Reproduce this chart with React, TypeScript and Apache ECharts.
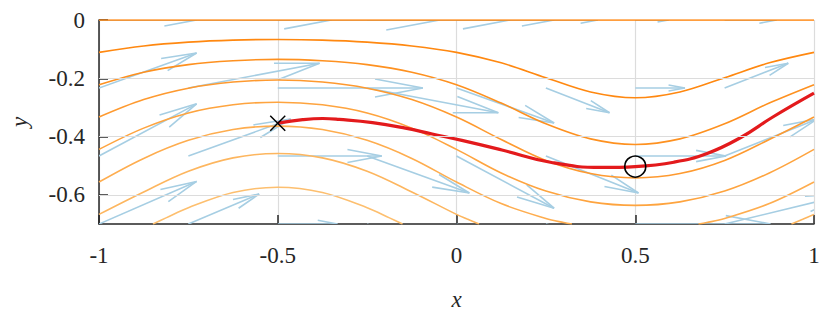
import React, { useEffect, useRef } from "react";
import * as echarts from "echarts";

// ---- streamlines (contours of the stream function) ----
const streamX = [-1, -0.875, -0.75, -0.625, -0.5, -0.375, -0.25, -0.125, 0, 0.125, 0.25, 0.375, 0.5, 0.625, 0.75, 0.875, 1];
const level0Y = [0, 0, 0, 0, 0, 0, 0, 0, 0, 0, 0, 0, 0, 0, 0, 0, 0];
const level1Y = [-0.111, -0.089, -0.076, -0.069, -0.067, -0.069, -0.076, -0.089, -0.111, -0.147, -0.198, -0.247, -0.267, -0.247, -0.198, -0.147, -0.111];
const level2Y = [-0.222, -0.179, -0.153, -0.14, -0.135, -0.14, -0.153, -0.179, -0.222, -0.285, -0.356, -0.408, -0.427, -0.408, -0.356, -0.285, -0.222];
const level3Y = [-0.333, -0.273, -0.234, -0.213, -0.206, -0.213, -0.234, -0.273, -0.333, -0.41, -0.482, -0.527, -0.542, -0.527, -0.482, -0.41, -0.333];
const level4Y = [-0.444, -0.371, -0.319, -0.291, -0.282, -0.291, -0.319, -0.371, -0.444, -0.525, -0.587, -0.624, -0.636, -0.624, -0.587, -0.525, -0.444];
const level5aX = [-1, -0.875, -0.75, -0.625, -0.5, -0.375, -0.25, -0.125, 0, 0.125, 0.25, 0.3, 0.323];
const level5aY = [-0.556, -0.475, -0.413, -0.376, -0.364, -0.376, -0.413, -0.475, -0.556, -0.63, -0.681, -0.695, -0.7];
const level5bX = [0.677, 0.7, 0.75, 0.875, 1];
const level5bY = [-0.7, -0.695, -0.681, -0.63, -0.556];
const level6aX = [-1, -0.875, -0.75, -0.625, -0.5, -0.375, -0.25, -0.125, 0, 0.03, 0.063];
const level6aY = [-0.667, -0.59, -0.519, -0.473, -0.458, -0.473, -0.519, -0.59, -0.667, -0.683, -0.7];
const level6bX = [0.937, 0.97, 1];
const level6bY = [-0.7, -0.683, -0.667];
const level7X = [-0.849, -0.8125, -0.75, -0.625, -0.5, -0.375, -0.25, -0.1875, -0.151];
const level7Y = [-0.7, -0.679, -0.644, -0.592, -0.574, -0.592, -0.644, -0.679, -0.7];

const levelColors = ["#ff7f00", "#ff8810", "#fe9120", "#fe9a30", "#fea43f", "#fead4f", "#fdb65f", "#fdbf6f"];

// ---- pathline ----
const pathX = [-0.5, -0.43, -0.374, -0.328, -0.235, -0.143, -0.068, 0.015, 0.127, 0.266, 0.405, 0.5, 0.608, 0.701, 0.794, 0.886, 1.0];
const pathY = [-0.354, -0.342, -0.338, -0.341, -0.352, -0.371, -0.391, -0.413, -0.446, -0.489, -0.506, -0.503, -0.488, -0.458, -0.404, -0.332, -0.251];
const startPoint = [-0.5, -0.354];
const markPoint = [0.5, -0.503];

// ---- quiver (tails on a grid, offsets in data units) ----
const quiverX = [-1, -0.75, -0.5, -0.25, 0, 0.25, 0.5, 0.75, 1];
const quiverY = [0, -0.2333, -0.4667, -0.7];
const quiverU = [
  [0.273, 0.4, 0.453, 0.4, 0.273, 0.145, 0.093, 0.145, 0.273],
  [0.273, 0.367, 0.406, 0.367, 0.273, 0.178, 0.139, 0.178, 0.273],
  [0.273, 0.286, 0.291, 0.286, 0.273, 0.259, 0.254, 0.259, 0.273],
  [0.273, 0.198, 0.167, 0.198, 0.273, 0.347, 0.378, 0.347, 0.273],
];
const quiverV = [
  [0, 0, 0, 0, 0, 0, 0, 0, 0],
  [0.12, 0.085, 0, -0.085, -0.12, -0.085, 0, 0.085, 0.12],
  [0.179, 0.127, 0, -0.127, -0.179, -0.127, 0, 0.127, 0.179],
  [0.146, 0.103, 0, -0.103, -0.146, -0.103, 0, 0.103, 0.146],
];

// ---- axes ----
const xTicks = [-1, -0.5, 0, 0.5, 1];
const yTicks = [-0.6, -0.4, -0.2, 0];
const yGrid = [-0.2, -0.4, -0.6];

const FONT = "'Liberation Serif', 'DejaVu Serif', serif";
const AXIS_COLOR = "#262626";

function zip(xs: number[], ys: number[]) {
  return xs.map((x, i) => [x, ys[i]]);
}

export default function App() {
  const ref = useRef<HTMLDivElement>(null);
  useEffect(() => {
    if (!ref.current) return;
    const chart = echarts.init(ref.current, null, { renderer: "svg" });

    const streams: { data: number[][]; level: number }[] = [
      { data: zip(streamX, level0Y), level: 0 },
      { data: zip(streamX, level1Y), level: 1 },
      { data: zip(streamX, level2Y), level: 2 },
      { data: zip(streamX, level3Y), level: 3 },
      { data: zip(streamX, level4Y), level: 4 },
      { data: zip(level5aX, level5aY), level: 5 },
      { data: zip(level5bX, level5bY), level: 5 },
      { data: zip(level6aX, level6aY), level: 6 },
      { data: zip(level6bX, level6bY), level: 6 },
      { data: zip(level7X, level7Y), level: 7 },
    ];

    const quiverData: number[][] = [];
    quiverY.forEach((y, j) => {
      quiverX.forEach((x, i) => {
        quiverData.push([x, y, quiverU[j][i], quiverV[j][i]]);
      });
    });

    const arrowStyle = { stroke: "#a6cee3", lineWidth: 1.6, fill: null };

    const option: any = {
      animation: false,
      grid: { left: 95, right: 16, top: 20, bottom: 108, containLabel: false },
      xAxis: {
        type: "value",
        min: -1,
        max: 1,
        interval: 0.5,
        name: "x",
        nameLocation: "middle",
        nameGap: 64,
        nameTextStyle: { fontFamily: FONT, fontStyle: "italic", fontSize: 23, color: AXIS_COLOR },
        axisLine: { show: true, onZero: false, lineStyle: { color: AXIS_COLOR, width: 1.5 } },
        axisTick: { show: true, inside: true, length: 9, lineStyle: { color: AXIS_COLOR, width: 1.5 } },
        axisLabel: {
          margin: 20,
          fontFamily: FONT,
          fontSize: 23,
          color: AXIS_COLOR,
          customValues: xTicks,
          formatter: (v: number) => String(v),
        },
        splitLine: { show: true, lineStyle: { color: "#dcdcdc", width: 1.2 } },
      },
      yAxis: {
        type: "value",
        min: -0.7,
        max: 0,
        name: "y",
        nameLocation: "middle",
        nameRotate: 90,
        nameGap: 68,
        nameTextStyle: { fontFamily: FONT, fontStyle: "italic", fontSize: 23, color: AXIS_COLOR },
        axisLine: { show: true, onZero: false, lineStyle: { color: AXIS_COLOR, width: 1.5 } },
        axisTick: { show: true, inside: true, length: 9, customValues: yTicks, lineStyle: { color: AXIS_COLOR, width: 1.5 } },
        axisLabel: {
          margin: 14,
          fontFamily: FONT,
          fontSize: 23,
          color: AXIS_COLOR,
          customValues: yTicks,
          formatter: (v: number) => String(v),
        },
        splitLine: { show: false },
      },
      series: [
        {
          type: "line",
          data: [],
          z: 1,
          silent: true,
          markLine: {
            silent: true,
            symbol: "none",
            label: { show: false },
            lineStyle: { color: "#dcdcdc", width: 1.2, type: "solid" },
            data: yGrid.map((v) => ({ yAxis: v })),
          },
        },
        {
          type: "custom",
          coordinateSystem: "cartesian2d",
          clip: true,
          z: 2,
          silent: true,
          data: quiverData,
          encode: { x: 0, y: 1 },
          renderItem: (_params: any, api: any) => {
            const x = api.value(0);
            const y = api.value(1);
            const u = api.value(2);
            const v = api.value(3);
            const a = 0.33;
            const b = 0.23;
            const tail = api.coord([x, y]);
            const tip = api.coord([x + u, y + v]);
            const h1 = api.coord([x + u - a * (u + b * v), y + v - a * (v - b * u)]);
            const h2 = api.coord([x + u - a * (u - b * v), y + v - a * (v + b * u)]);
            return {
              type: "group",
              children: [
                { type: "polyline", shape: { points: [tail, tip] }, style: arrowStyle },
                { type: "polyline", shape: { points: [h1, tip, h2] }, style: arrowStyle },
              ],
            };
          },
        },
        ...streams.map((s) => ({
          type: "line",
          data: s.data,
          z: 3,
          silent: true,
          showSymbol: false,
          symbol: "none",
          smooth: 0.35,
          clip: true,
          lineStyle: { color: levelColors[s.level], width: 1.6 },
        })),
        {
          type: "line",
          data: zip(pathX, pathY),
          z: 4,
          silent: true,
          showSymbol: false,
          symbol: "none",
          smooth: 0.45,
          lineStyle: { color: "#e31a1c", width: 3.2 },
        },
        {
          type: "custom",
          coordinateSystem: "cartesian2d",
          clip: false,
          z: 5,
          silent: true,
          data: [startPoint],
          renderItem: (_p: any, api: any) => {
            const c = api.coord([api.value(0), api.value(1)]);
            const r = 7.5;
            const st = { stroke: "#000", lineWidth: 1.5 };
            return {
              type: "group",
              children: [
                { type: "line", shape: { x1: c[0] - r, y1: c[1] - r, x2: c[0] + r, y2: c[1] + r }, style: st },
                { type: "line", shape: { x1: c[0] - r, y1: c[1] + r, x2: c[0] + r, y2: c[1] - r }, style: st },
              ],
            };
          },
        },
        {
          type: "custom",
          coordinateSystem: "cartesian2d",
          clip: false,
          z: 5,
          silent: true,
          data: [markPoint],
          renderItem: (_p: any, api: any) => {
            const c = api.coord([api.value(0), api.value(1)]);
            return {
              type: "circle",
              shape: { cx: c[0], cy: c[1], r: 10.5 },
              style: { stroke: "#000", lineWidth: 1.6, fill: null },
            };
          },
        },
      ],
    };

    chart.setOption(option);
    return () => {
      chart.dispose();
    };
  }, []);

  return (
    <div
      ref={ref}
      style={{ position: "fixed", left: 0, top: 0, width: 830, height: 332, background: "#fff" }}
    />
  );
}
